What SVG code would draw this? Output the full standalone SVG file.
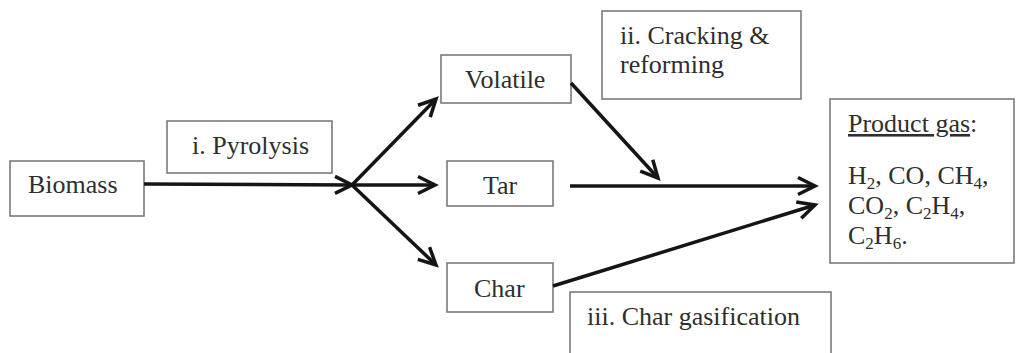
<svg xmlns="http://www.w3.org/2000/svg" width="1016" height="353" viewBox="0 0 1016 353">
<style>
.box{fill:#fff;stroke:#7a7a7a;stroke-width:1.6}
.t{font-family:"Liberation Serif","Times New Roman",serif;font-size:26px;fill:#2e2e2e}
.sub{font-size:17px}
.c{fill:none;stroke:#151515;stroke-width:3.5}
</style>
<defs>
<marker id="ah" markerUnits="userSpaceOnUse" markerWidth="30" markerHeight="30" viewBox="-22 -15 30 30" refX="0" refY="0" orient="auto">
<path d="M-17,-8.5 L0,0 L-17,8.5" fill="none" stroke="#151515" stroke-width="3.5"/>
</marker>
</defs>
<rect width="1016" height="353" fill="#fff"/>
<g id="biomass"><rect class="box" x="10" y="161" width="134" height="55"/><text class="t" x="28" y="193">Biomass</text></g>
<g id="pyrolysis"><rect class="box" x="167" y="121" width="165" height="52"/><text class="t" x="192" y="154">i. Pyrolysis</text></g>
<g id="volatile"><rect class="box" x="441" y="55" width="130" height="48"/><text class="t" x="465" y="88">Volatile</text></g>
<g id="tar"><rect class="box" x="447" y="161" width="106" height="45"/><text class="t" x="483" y="194">Tar</text></g>
<g id="char"><rect class="box" x="447" y="263" width="106" height="49"/><text class="t" x="474" y="297">Char</text></g>
<g id="cracking"><rect class="box" x="602" y="11" width="199" height="88"/><text class="t" x="620" y="44">ii. Cracking &amp;</text><text class="t" x="620" y="73">reforming</text></g>
<g id="gasification"><rect class="box" x="570" y="292" width="261" height="80"/><text class="t" x="587" y="325">iii. Char gasification</text></g>
<g id="product"><rect class="box" x="830" y="99" width="184" height="164"/>
<text class="t" x="848" y="132"><tspan text-decoration="underline">Product gas</tspan>:</text>
<text class="t" x="848" y="184">H<tspan class="sub" dy="5">2</tspan><tspan dy="-5">, CO, CH</tspan><tspan class="sub" dy="5">4</tspan><tspan dy="-5">,</tspan></text>
<text class="t" x="848" y="214">CO<tspan class="sub" dy="5">2</tspan><tspan dy="-5">, C</tspan><tspan class="sub" dy="5">2</tspan><tspan dy="-5">H</tspan><tspan class="sub" dy="5">4</tspan><tspan dy="-5">,</tspan></text>
<text class="t" x="848" y="244">C<tspan class="sub" dy="5">2</tspan><tspan dy="-5">H</tspan><tspan class="sub" dy="5">6</tspan><tspan dy="-5">.</tspan></text>
</g>
<g id="connectors">
<line class="c" x1="144" y1="184" x2="352" y2="185" marker-end="url(#ah)"/>
<line class="c" x1="352" y1="185" x2="436" y2="99" marker-end="url(#ah)"/>
<line class="c" x1="352" y1="185" x2="435" y2="185" marker-end="url(#ah)"/>
<line class="c" x1="352" y1="185" x2="436" y2="265" marker-end="url(#ah)"/>
<line class="c" x1="571" y1="83" x2="658" y2="178" marker-end="url(#ah)"/>
<line class="c" x1="570" y1="186" x2="815" y2="186" marker-end="url(#ah)"/>
<line class="c" x1="553" y1="286" x2="815" y2="205" marker-end="url(#ah)"/>
</g>
</svg>
